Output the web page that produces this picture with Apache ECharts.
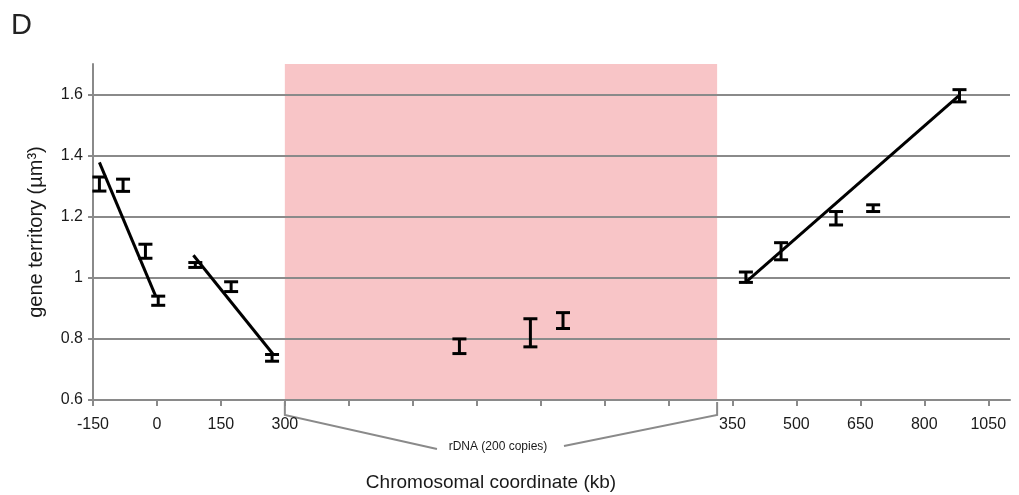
<!DOCTYPE html>
<html>
<head>
<meta charset="utf-8">
<script src="https://cdn.jsdelivr.net/npm/echarts@6/dist/echarts.min.js"></script>
<style>
html, body { margin: 0; padding: 0; background: #fff; }
#main { width: 1019px; height: 495px; }
</style>
</head>
<body>
<div id="main"></div>
<script>
// x positions are axis slots: -150,0,150,300 | rDNA gap | 350,500,650,800,1050
var tickSlots = [0, 1, 2, 3, 10, 11, 12, 13, 14];
var tickNames = ['-150', '0', '150', '300', '350', '500', '650', '800', '1050'];
var allTicks = [0, 1, 2, 3, 4, 5, 6, 7, 8, 9, 10, 11, 12, 13, 14];
var yTicks = [0.6, 0.8, 1, 1.2, 1.4, 1.6];

var rdnaStart = 3, rdnaEnd = 9.76;

var pointX   = [0.10, 0.47, 0.82, 1.02, 1.60, 2.16, 2.80, 5.73, 6.84, 7.35, 10.21, 10.76, 11.62, 12.20, 13.55];
var pointY   = [1.307, 1.303, 1.087, 0.925, 1.042, 0.971, 0.738, 0.776, 0.820, 0.860, 1.002, 1.087, 1.195, 1.228, 1.596];
var pointErr = [0.023, 0.020, 0.023, 0.015, 0.008, 0.016, 0.011, 0.024, 0.046, 0.026, 0.017, 0.028, 0.022, 0.011, 0.020];

var fitLeft  = [[0.10, 1.378], [0.98, 0.940]];
var fitMid   = [[1.57, 1.074], [2.82, 0.749]];
var fitRight = [[10.20, 0.984], [13.56, 1.600]];

var FONT = 'Liberation Sans';
var GRAY = '#8a8a8a';

var chart = echarts.init(document.getElementById('main'));

var barData = pointX.map(function (x, i) {
  return [x, pointY[i] - pointErr[i], pointY[i] + pointErr[i]];
});

function fitSeries(pts) {
  return {
    type: 'line',
    data: pts,
    showSymbol: false,
    lineStyle: { color: '#000', width: 3 },
    z: 3
  };
}

chart.setOption({
  animation: false,
  grid: { left: 93, right: 9, top: 64, bottom: 95 },
  xAxis: {
    type: 'value',
    min: 0,
    max: 14.34,
    axisLine: { show: true, lineStyle: { color: GRAY, width: 2 } },
    axisTick: { show: true, length: 6, customValues: allTicks, lineStyle: { color: GRAY, width: 2 } },
    axisLabel: {
      customValues: tickSlots,
      margin: 17,
      color: '#1a1a1a',
      fontFamily: FONT,
      fontSize: 16,
      formatter: function (v) {
        var i = tickSlots.indexOf(Math.round(v));
        return i < 0 ? '' : tickNames[i];
      }
    },
    splitLine: { show: false }
  },
  yAxis: {
    type: 'value',
    min: 0.6,
    max: 1.7,
    interval: 0.2,
    name: 'gene territory (µm³)',
    nameLocation: 'middle',
    nameGap: 47,
    nameTextStyle: { fontFamily: FONT, fontSize: 20, color: '#1a1a1a' },
    axisLine: { show: true, lineStyle: { color: GRAY, width: 2 } },
    axisTick: { show: true, length: 5, customValues: yTicks, lineStyle: { color: GRAY, width: 2 } },
    axisLabel: { customValues: yTicks, margin: 10, color: '#1a1a1a', fontFamily: FONT, fontSize: 16 },
    splitLine: { show: true, lineStyle: { color: GRAY, width: 2 } }
  },
  series: [
    {
      // rDNA block
      type: 'custom',
      z: -1,
      data: [[rdnaStart, rdnaEnd]],
      renderItem: function (params, api) {
        var a = api.coord([api.value(0), 1.7]);
        var b = api.coord([api.value(1), 0.6]);
        return { type: 'rect', shape: { x: a[0], y: a[1], width: b[0] - a[0], height: b[1] - a[1] }, style: { fill: '#f8c5c7' } };
      }
    },
    {
      type: 'custom',
      z: 4,
      data: barData,
      renderItem: function (params, api) {
        var lo = api.coord([api.value(0), api.value(1)]);
        var hi = api.coord([api.value(0), api.value(2)]);
        var w = 7;
        var st = { stroke: '#000', lineWidth: 3 };
        return {
          type: 'group',
          children: [
            { type: 'line', shape: { x1: lo[0], y1: lo[1], x2: hi[0], y2: hi[1] }, style: st },
            { type: 'line', shape: { x1: lo[0] - w, y1: lo[1], x2: lo[0] + w, y2: lo[1] }, style: st },
            { type: 'line', shape: { x1: hi[0] - w, y1: hi[1], x2: hi[0] + w, y2: hi[1] }, style: st }
          ]
        };
      }
    },
    fitSeries(fitLeft),
    fitSeries(fitMid),
    fitSeries(fitRight)
  ]
});

// bracket under the rDNA block
var pa = chart.convertToPixel({ gridIndex: 0 }, [rdnaStart, 0.6]);
var pb = chart.convertToPixel({ gridIndex: 0 }, [rdnaEnd, 0.6]);
var mid = (pa[0] + pb[0]) / 2 - 3;
var br = { stroke: GRAY, lineWidth: 2 };

chart.setOption({
  graphic: [
    { type: 'text', left: 11, top: 11, style: { text: 'D', font: '29px "' + FONT + '"', fill: '#222' } },
    { type: 'polyline', shape: { points: [[pa[0], pa[1] + 2], [pa[0], pa[1] + 15], [mid - 61, pa[1] + 49]] }, style: br },
    { type: 'polyline', shape: { points: [[pb[0], pb[1] + 2], [pb[0], pb[1] + 15], [mid + 66, pb[1] + 46]] }, style: br },
    { type: 'text', x: mid, y: pa[1] + 47, style: { text: 'rDNA (200 copies)', font: '12px "' + FONT + '"', fill: '#1a1a1a', textAlign: 'center', textVerticalAlign: 'middle' } },
    { type: 'text', x: 491, y: 483, style: { text: 'Chromosomal coordinate (kb)', font: '19px "' + FONT + '"', fill: '#1a1a1a', textAlign: 'center', textVerticalAlign: 'middle' } }
  ]
});
</script>
</body>
</html>
